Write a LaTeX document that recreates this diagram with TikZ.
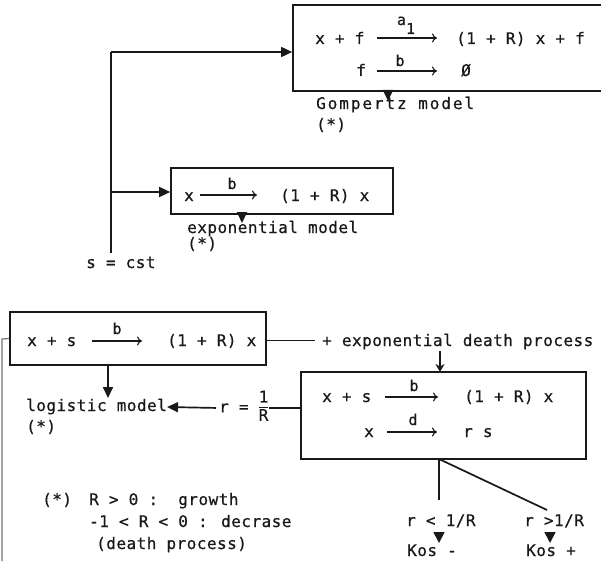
\documentclass[tikz,border=0pt]{standalone}
\usepackage{fontspec}
\setmainfont[LetterSpace=3,FakeBold=0.6]{DejaVu Sans Mono}
\newfontfamily\widefont[LetterSpace=12,FakeBold=0.6]{DejaVu Sans Mono}
\usetikzlibrary{arrows.meta,calc}
\setlength{\arrayrulewidth}{1.3pt}
\begin{document}
\begin{tikzpicture}[x=1pt,y=-1pt,
  every node/.style={font=\fontsize{16}{18}\selectfont, text=black!90, inner sep=0pt},
  txt/.style={anchor=west, text height=11pt, text depth=3pt},
  lbl/.style={font=\fontsize{15}{17}\selectfont, text height=10pt, text depth=0pt},
  box/.style={draw=black!90, line width=1.7pt},
  conn/.style={draw=black!90, line width=1.7pt},
  tri/.style={-{Triangle[length=11pt,width=10pt]}},
  rxn/.style={draw=black!90, line width=1.1pt, -{To[length=5pt,width=9pt]}},
]
\path[use as bounding box] (0,0) rectangle (601,561);
\clip (0,0) rectangle (601,561);

% boxes
\node[box, minimum width=322pt, minimum height=86pt] (gbox) at (454,48) {};
\node[box, minimum width=222pt, minimum height=46pt] (ebox) at (282,191) {};
\node[box, minimum width=256pt, minimum height=53pt] (lbox) at (138,338.5) {};
\node[box, minimum width=285pt, minimum height=87pt] (dbox) at (443.5,415.5) {};

% Gompertz box contents
\node[txt] (g1l) at (315,40) {x + f};
\node[txt] (g1r) at (456,40) {(1 + R) x + f};
\node[txt] (g2l) at (356,72) {f};
\node[txt] (g2r) at (461,72) {Ø};
\coordinate (g1a) at (377,38); \coordinate (g1b) at (437,38);
\coordinate (g2a) at (377,71); \coordinate (g2b) at (437,71);
\draw[rxn] (g1a) -- (g1b);
\draw[rxn] (g2a) -- (g2b);
\node[lbl] (ga) at (406,20) {a\raisebox{-9pt}{1}};
\node[lbl] (gb) at (400,61) {b};
\node[txt, font=\widefont\fontsize{16}{18}\selectfont] (gname) at (316,105) {Gompertz model};
\node[txt] (gstar) at (316,126) {(*)};

% exponential box contents
\node[txt] (e1l) at (184,197) {x};
\node[txt] (e1r) at (280,197) {(1 + R) x};
\coordinate (e1a) at (200,195); \coordinate (e1b) at (257,195);
\draw[rxn] (e1a) -- (e1b);
\node[lbl] (eb) at (232,184) {b};
\node[txt] (ename) at (187,229) {exponential model};
\node[txt] (estar) at (187,245) {(*)};
\node[txt] (scst) at (86,264) {s = cst};

% connectors on the left
\coordinate (jg) at (111,52);
\coordinate (je) at (111,192);
\coordinate (jbot) at (111,253);
\draw[conn] (jbot) -- (jg);
\draw[conn, tri] (jg) -- (jg -| gbox.west);
\draw[conn, tri] (je) -- (je -| ebox.west);
\coordinate (gt) at (388,91);
\coordinate (et) at (242,214);
\draw[conn, tri] (gt) -- ++(0,10);
\draw[conn, tri] (et) -- ++(0,9);

% logistic box contents
\node[txt] (l1l) at (27,342) {x + s};
\node[txt] (l1r) at (167,342) {(1 + R) x};
\coordinate (l1a) at (92,341); \coordinate (l1b) at (142,341);
\draw[rxn] (l1a) -- (l1b);
\node[lbl] (lb) at (117,329) {b};

\node[txt] (edp) at (322,342) {+ exponential death process};
\coordinate (le0) at ($(lbox.east)+(0,2)$);
\draw[conn] (le0) -- ($(le0 -| edp.west)+(-7,0)$);

\coordinate (lft) at (2,339);
\coordinate (lftb) at (2,561);
\draw[draw=black!55, line width=1.2pt] (lbox.west) -- (lft) -- (lftb);

\node[txt] (logi) at (26,407) {logistic model};
\node[txt] (lstar) at (26,428) {(*)};
\coordinate (la) at (108,365);
\coordinate (lz) at (108,398);
\draw[conn, tri] (la) -- (lz);

\node[anchor=west] (rfrac) at (219,408) {r = \begin{tabular}{@{}c@{}}1\\[-1pt]\hline R\end{tabular}};
\draw[conn] (rfrac.east) -- (rfrac.east -| dbox.west);
\draw[conn, tri, shorten <=3pt] (rfrac.west) -- (logi.east);

% arrow into death box
\coordinate (dt0) at (440,351);
\coordinate (dt1) at (440,372);
\draw[draw=black!90, line width=1.4pt, -{Stealth[length=8pt,width=9pt]}] (dt0) -- (dt1);

% death box contents
\node[txt] (d1l) at (322,398) {x + s};
\node[txt] (d1r) at (464,398) {(1 + R) x};
\node[txt] (d2l) at (364,433) {x};
\node[txt] (d2r) at (463,433) {r s};
\coordinate (d1a) at (385,397); \coordinate (d1b) at (438,397);
\coordinate (d2a) at (387,432); \coordinate (d2b) at (437,432);
\draw[rxn] (d1a) -- (d1b);
\draw[rxn] (d2a) -- (d2b);
\node[lbl] (db) at (414,386) {b};
\node[lbl] (dd) at (413,420) {d};

% branches
\coordinate (sp) at (439,459);
\coordinate (v1) at (439,500);
\coordinate (v2) at (547,510);
\draw[conn] (sp) -- (v1);
\draw[conn] (sp) -- (v2);
\node[txt] (rlt) at (406,522) {r < 1/R};
\node[txt] (rgt) at (524,522) {r >1/R};
\node[txt] (kosm) at (407,552) {Kos -};
\node[txt] (kosp) at (526,552) {Kos +};
\coordinate (t1a) at (439,532); \coordinate (t1b) at (439,543);
\coordinate (t2a) at (550,532); \coordinate (t2b) at (550,543);
\draw[conn, -{Triangle[length=11pt,width=11pt]}] (t1a) -- (t1b);
\draw[conn, -{Triangle[length=11pt,width=11pt]}] (t2a) -- (t2b);

% legend
\node[txt] (s0) at (42,501) {(*)};
\node[txt] (s1) at (89,501) {R > 0 :\ \ growth};
\node[txt] (s2) at (89,523) {-1 < R < 0 : decrase};
\node[txt] (s3) at (96,545) {(death process)};
\end{tikzpicture}
\end{document}
